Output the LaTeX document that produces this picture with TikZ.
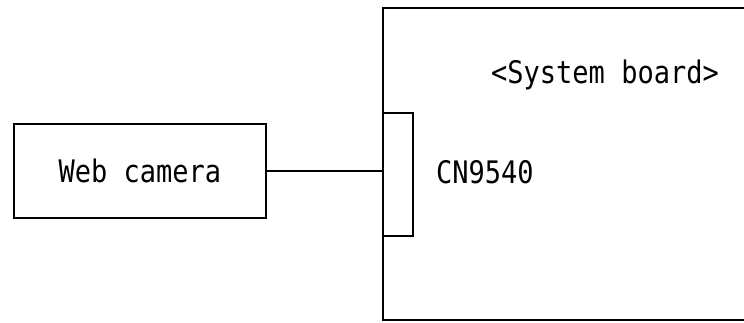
\documentclass[tikz,border=0pt]{standalone}
\usepackage{fontspec}
\setmainfont{DejaVu Sans Mono}
\usepackage{tikz}

\begin{document}
\begin{tikzpicture}[x=1pt,y=-1pt]%
  \tikzstyle{boxn}=[rectangle,draw,line width=1.8pt,inner sep=0,anchor=north west]
  \tikzstyle{txtn}=[inner sep=0,font=\fontsize{27}{30}\selectfont]
  \useasboundingbox (0,0) rectangle (744,322);
  \node(board)[boxn,minimum width=380pt,minimum height=312pt] at (382,7) {};
  \node(conn)[boxn,fill=white,minimum width=30pt,minimum height=123pt] at (382,112) {};
  \node(cam)[boxn,minimum width=252pt,minimum height=94pt] at (13,123) {};
  \node(camtxt)[txtn] at (cam.center) {\scalebox{1}[1.15]{Web camera}};
  \node(title)[txtn] at (605,75) {\scalebox{1}[1.15]{<System board>}};
  \node(cn)[txtn,anchor=west] at (436,172) {\scalebox{1}[1.15]{CN9540}};
  \draw[line width=1.4pt] (cam.east) -- (cam.east -| conn.west);
\end{tikzpicture}
\end{document}
